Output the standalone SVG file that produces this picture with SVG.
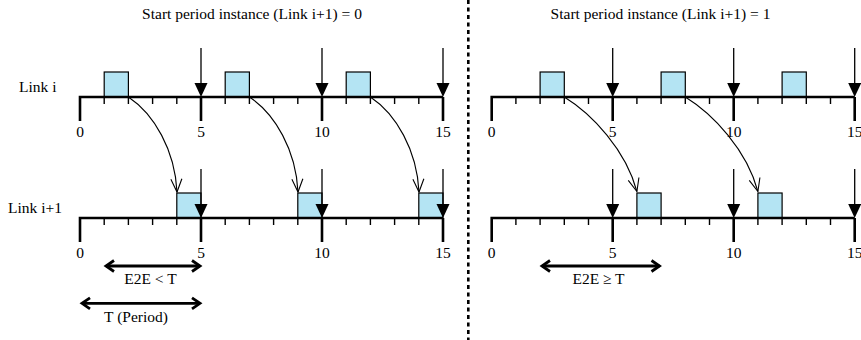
<svg xmlns="http://www.w3.org/2000/svg" xmlns:xlink="http://www.w3.org/1999/xlink" width="861" height="340" viewBox="0 0 861 340">
<style>
text{font-family:"Liberation Serif","Times New Roman","DejaVu Serif",serif;font-size:15.5px;fill:#000}
.mid{text-anchor:middle}
.box{fill:#b4e4f3;stroke:#000;stroke-width:1.2}
.minor{fill:none;stroke:#000;stroke-width:1.4}
.major{fill:none;stroke:#000;stroke-width:2.6;stroke-linejoin:miter}
.thin{fill:none;stroke:#000;stroke-width:1.3}
.curve{fill:none;stroke:#000;stroke-width:1.1;marker-end:url(#open)}
.dbl{fill:none;stroke:#000;stroke-width:2.8;marker-start:url(#dh);marker-end:url(#dh)}
.div{stroke:#000;stroke-width:2.6;stroke-dasharray:4 3.5}
</style>
<defs>
<marker id="open" markerUnits="userSpaceOnUse" markerWidth="30" markerHeight="30" refX="0" refY="0" viewBox="-15 -15 30 30" orient="auto" overflow="visible">
<path d="M-13,-5.5L0,0L-13,5.5" fill="none" stroke="#000" stroke-width="1.1"/>
</marker>
<marker id="dh" markerUnits="userSpaceOnUse" markerWidth="30" markerHeight="30" refX="0" refY="0" viewBox="-15 -15 30 30" orient="auto-start-reverse" overflow="visible">
<path d="M-8,-5.5L0,0L-8,5.5" fill="none" stroke="#000" stroke-width="2.8" stroke-linejoin="miter"/>
</marker>
<g id="ax">
<path class="minor" d="M24.2,0v7M48.4,0v7M72.6,0v7M96.8,0v7M145.2,0v7M169.4,0v7M193.6,0v7M217.8,0v7M266.2,0v7M290.4,0v7M314.6,0v7M338.8,0v7"/>
<path class="major" d="M0,24V0H363M121,0v24M242,0v24M363,0v24"/>
<text class="mid" x="0" y="39.5">0</text>
<text class="mid" x="121" y="39.5">5</text>
<text class="mid" x="242" y="39.5">10</text>
<text class="mid" x="363" y="39.5">15</text>
</g>
<g id="da">
<path class="thin" d="M0,-49V-13"/>
<path d="M-6.5,-14L6.5,-14L0,0Z" fill="#000"/>
</g>
</defs>

<g id="titles">
<text class="mid" x="252" y="18.5">Start period instance (Link i+1) = 0</text>
<text class="mid" x="660.5" y="18.5">Start period instance (Link i+1) = 1</text>
</g>

<g id="row-labels">
<text x="19" y="92">Link i</text>
<text x="8" y="213">Link i+1</text>
</g>

<line id="divider" class="div" x1="468.3" y1="0" x2="468.3" y2="340"/>

<g id="left-link-i">
<rect class="box" x="104.2" y="72" width="24.2" height="25"/>
<rect class="box" x="225.2" y="72" width="24.2" height="25"/>
<rect class="box" x="346.2" y="72" width="24.2" height="25"/>
<use xlink:href="#ax" x="80" y="97"/>
<use xlink:href="#da" x="201" y="97"/>
<use xlink:href="#da" x="322" y="97"/>
<use xlink:href="#da" x="443" y="97"/>
</g>

<g id="left-link-i1">
<rect class="box" x="176.8" y="193" width="24.2" height="25"/>
<rect class="box" x="297.8" y="193" width="24.2" height="25"/>
<rect class="box" x="418.8" y="193" width="24.2" height="25"/>
<use xlink:href="#ax" x="80" y="218"/>
<use xlink:href="#da" x="201" y="218"/>
<use xlink:href="#da" x="322" y="218"/>
<use xlink:href="#da" x="443" y="218"/>
</g>

<g id="right-link-i">
<rect class="box" x="540.1" y="72" width="24.2" height="25"/>
<rect class="box" x="661.1" y="72" width="24.2" height="25"/>
<rect class="box" x="782.1" y="72" width="24.2" height="25"/>
<use xlink:href="#ax" x="491.7" y="97"/>
<use xlink:href="#da" x="612.7" y="97"/>
<use xlink:href="#da" x="733.7" y="97"/>
<use xlink:href="#da" x="854.7" y="97"/>
</g>

<g id="right-link-i1">
<rect class="box" x="636.9" y="193" width="24.2" height="25"/>
<rect class="box" x="757.9" y="193" width="24.2" height="25"/>
<use xlink:href="#ax" x="491.7" y="218"/>
<use xlink:href="#da" x="612.7" y="218"/>
<use xlink:href="#da" x="733.7" y="218"/>
<use xlink:href="#da" x="854.7" y="218"/>
</g>

<g id="connectors">
<path class="curve" d="M128.4,97C154,114 175,150 177,192"/>
<path class="curve" d="M249.4,97C275,114 296,150 298,192"/>
<path class="curve" d="M370.4,97C396,114 417,150 419,192"/>
<path class="curve" d="M564.3,97C592,114 626,150 636.9,191.5"/>
<path class="curve" d="M685.3,97C713,114 747,150 757.9,191.5"/>
</g>

<g id="measures">
<path class="dbl" d="M106,266H200"/>
<text class="mid" x="150.5" y="283.5">E2E &lt; T</text>
<path class="dbl" d="M82,303.3H200"/>
<text class="mid" x="136" y="321.5">T (Period)</text>
<path class="dbl" d="M542,266H659.5"/>
<text class="mid" x="598.5" y="283.5">E2E ≥ T</text>
</g>
</svg>
